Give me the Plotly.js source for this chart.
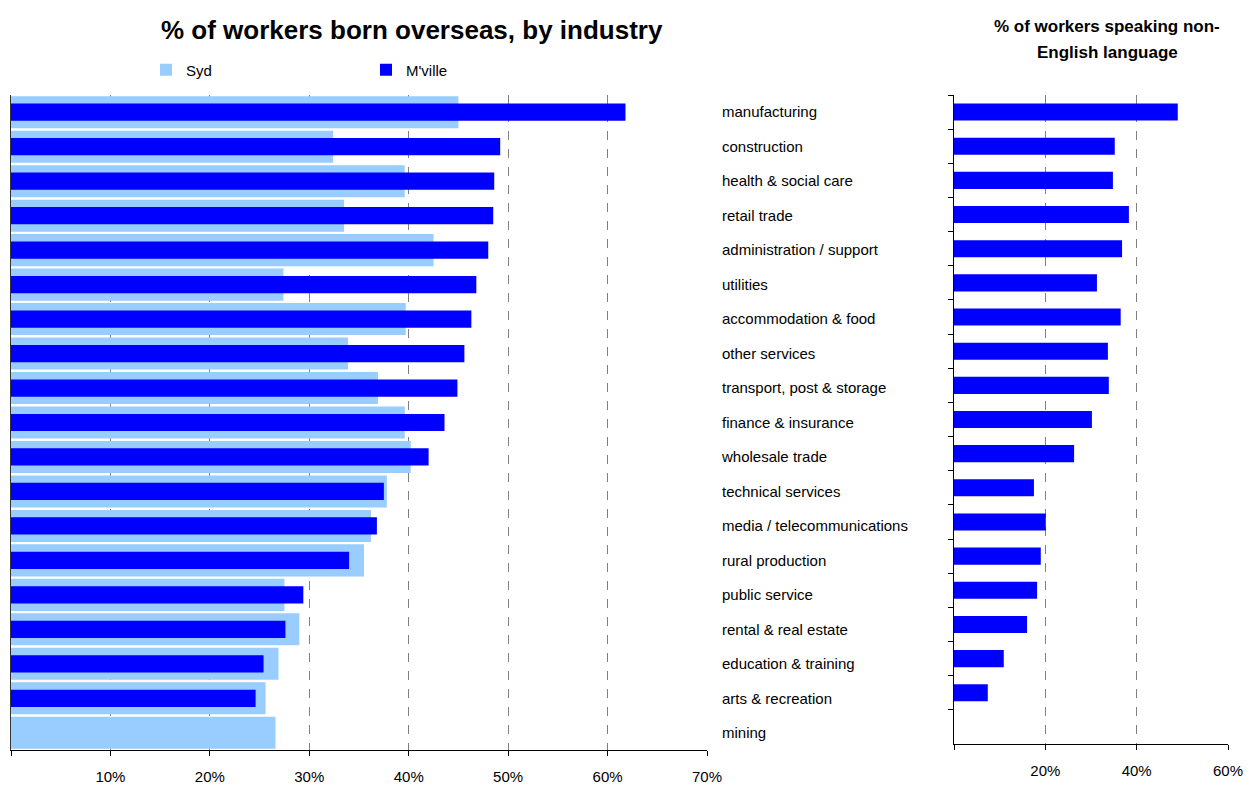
<!DOCTYPE html>
<html>
<head>
<meta charset="utf-8">
<script src="https://cdn.plot.ly/plotly-3.0.1.min.js"></script>
<style>html,body{margin:0;padding:0;background:#fff;}#chart{width:1247px;height:785px;}</style>
</head>
<body>
<div id="chart"></div>
<script>
const industries = ["manufacturing","construction","health & social care","retail trade","administration / support","utilities","accommodation & food","other services","transport, post & storage","finance & insurance","wholesale trade","technical services","media / telecommunications","rural production","public service","rental & real estate","education & training","arts & recreation","mining"];
const sydBornOverseas = [45.0,32.4,39.6,33.5,42.5,27.4,39.7,33.9,36.9,39.6,40.2,37.8,36.2,35.5,27.5,29.0,26.9,25.6,26.6];
const mvilleBornOverseas = [61.8,49.2,48.6,48.5,48.0,46.8,46.3,45.6,44.9,43.6,42.0,37.5,36.8,34.0,29.4,27.6,25.4,24.6,null];
const mvilleNonEnglish = [49.0,35.2,34.8,38.3,36.8,31.3,36.5,33.7,33.9,30.2,26.3,17.5,20.1,19.0,18.2,16.0,10.9,7.4,null];
const leftTickVals = [0,10,20,30,40,50,60,70];
const leftTickText = ["","10%","20%","30%","40%","50%","60%","70%"];
const rightTickVals = [0,20,40,60];
const rightTickText = ["","20%","40%","60%"];

const FONT = "Liberation Sans, Arial, Helvetica, sans-serif";
const catRange = [industries.length - 0.5, -0.5];

const traces = [
  {type:"bar", orientation:"h", name:"Syd", x:sydBornOverseas, y:industries, xaxis:"x", yaxis:"y",
   marker:{color:"#99CCFF"}, width:0.93, hoverinfo:"x+y"},
  {type:"bar", orientation:"h", name:"M'ville", x:mvilleBornOverseas, y:industries, xaxis:"x", yaxis:"y3",
   marker:{color:"#0000FF"}, width:0.5, hoverinfo:"x+y"},
  {type:"bar", orientation:"h", name:"M'ville non-English", x:mvilleNonEnglish, y:industries, xaxis:"x2", yaxis:"y2",
   marker:{color:"#0000FF"}, width:0.5, showlegend:false, hoverinfo:"x+y"}
];

const W = 1247, H = 785, ml = 11, mr = 19, mt = 95, mb = 35;
const pw = W - ml - mr, ph = H - mt - mb;

const layout = {
  width: W, height: H,
  margin: {l: ml, r: mr, t: mt, b: mb, pad: 0},
  paper_bgcolor: "#fff", plot_bgcolor: "#fff",
  font: {family: FONT, size: 15, color: "#000"},
  barmode: "overlay",
  showlegend: true,
  legend: {orientation: "h", x: (146 - ml) / pw, xanchor: "left", y: 1 + (95 - 70) / ph, yanchor: "middle",
           bgcolor: "rgba(0,0,0,0)", font: {size: 15, family: FONT}, entrywidth: 175, traceorder: "normal"},
  xaxis: {domain: [0, (707 - ml) / pw], range: [0, 70], tickvals: leftTickVals, ticktext: leftTickText,
          ticks: "outside", ticklen: 5, tickcolor: "#000", showline: true, linecolor: "#000", linewidth: 1,
          showgrid: true, gridcolor: "#808080", griddash: "dash", gridwidth: 1, zeroline: false,
          ticklabelstandoff: 8, anchor: "y", fixedrange: true},
  yaxis: {domain: [0, 1], type: "category", categoryorder: "array", categoryarray: industries, range: catRange,
          showline: true, linecolor: "#333333", linewidth: 1.5, ticks: "", showticklabels: false, showgrid: false,
          zeroline: false, anchor: "x", side: "left", fixedrange: true},
  yaxis3: {overlaying: "y", type: "category", categoryorder: "array", categoryarray: industries, range: catRange,
           side: "right", anchor: "x", showline: false, ticks: "", showticklabels: true, showgrid: false,
           zeroline: false, ticklabelstandoff: 14, tickfont: {size: 15, family: FONT}, fixedrange: true},
  xaxis2: {domain: [(954 - ml) / pw, 1], range: [0, 60], tickvals: rightTickVals, ticktext: rightTickText,
           ticks: "outside", ticklen: 5, tickcolor: "#000", showline: true, linecolor: "#000", linewidth: 1,
           showgrid: true, gridcolor: "#808080", griddash: "dash", gridwidth: 1, zeroline: false,
           ticklabelstandoff: 8, anchor: "y2", fixedrange: true},
  yaxis2: {domain: [(750 - 744) / ph, 1 + (95 - 94) / ph], type: "category", categoryorder: "array",
           categoryarray: industries, range: catRange, tickson: "boundaries", ticks: "outside", ticklen: 5,
           tickcolor: "#000", showline: true, linecolor: "#000", linewidth: 1, showticklabels: false,
           showgrid: false, zeroline: false, anchor: "x2", fixedrange: true},
  annotations: [
    {text: "<b>% of workers born overseas, by industry</b>", xref: "paper", yref: "paper",
     x: (412 - ml) / pw, y: 1 + (95 - 30) / ph, xanchor: "center", yanchor: "middle", showarrow: false,
     font: {size: 26, family: FONT, color: "#000"}},
    {text: "<b>% of workers speaking non-</b>", xref: "paper", yref: "paper",
     x: (1107 - ml) / pw, y: 1 + (95 - 27) / ph, xanchor: "center", yanchor: "middle", showarrow: false,
     font: {size: 17, family: FONT, color: "#000"}},
    {text: "<b>English language</b>", xref: "paper", yref: "paper",
     x: (1107 - ml) / pw, y: 1 + (95 - 53) / ph, xanchor: "center", yanchor: "middle", showarrow: false,
     font: {size: 17, family: FONT, color: "#000"}}
  ]
};

Plotly.newPlot("chart", traces, layout, {displayModeBar: false, staticPlot: true});
</script>
</body>
</html>
